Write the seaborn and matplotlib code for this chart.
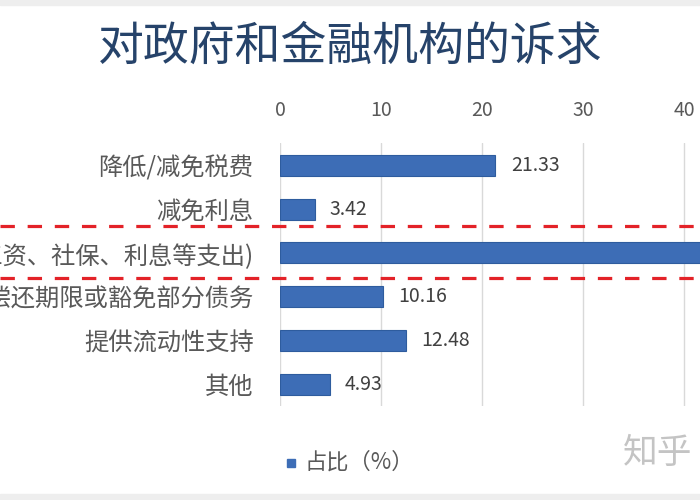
import matplotlib
matplotlib.use('Agg')
import matplotlib.pyplot as plt
import matplotlib.transforms as mtransforms
from matplotlib.lines import Line2D
from matplotlib.patches import Rectangle
import seaborn as sns

# Data
categories = ['降低/减免税费', '减免利息', '补贴企业刚性支出(工资、社保、利息等支出)',
              '延长偿还期限或豁免部分债务', '提供流动性支持', '其他']
shares = [21.33, 3.42, 47.68, 10.16, 12.48, 4.93]
x_ticks = [0, 10, 20, 30, 40, 50]
title = '对政府和金融机构的诉求'
legend_label = '占比（%）'

sns.set_theme(style='white')
plt.rcParams['font.family'] = ['Noto Sans CJK SC', 'DejaVu Sans']

bar_color = '#3D6DB6'
text_grey = '#595959'

fig = plt.figure(figsize=(7, 5), dpi=100)
fig.patch.set_facecolor('white')
# axes run off the right edge of the canvas, labels run off the left one
ax = fig.add_axes([280 / 700, 0.188, 505 / 700, 0.525])

sns.barplot(x=shares, y=categories, orient='h', color=bar_color,
            width=0.48, saturation=1, edgecolor='#2E5C9E', linewidth=0.8,
            ax=ax, label=legend_label, legend=False)

ax.set_xlim(0, 50)
ax.set_ylim(5.5, -0.5)
ax.set_xticks(x_ticks)
ax.xaxis.tick_top()
ax.tick_params(axis='x', length=0, pad=16, labelsize=14, labelcolor=text_grey)
ax.tick_params(axis='y', length=0, pad=19, labelsize=17.5, labelcolor=text_grey)
ax.set_xlabel('')
ax.set_ylabel('')
ax.grid(axis='x', color='#d9d9d9', linewidth=1)
ax.set_axisbelow(True)
for s in ax.spines.values():
    s.set_visible(False)

ax.bar_label(ax.containers[0], fmt='%.2f', padding=11, fontsize=14,
             color='#404040')

# red dashed box around the third category
trans = mtransforms.blended_transform_factory(fig.transFigure, ax.transData)
for yv in (1.38, 2.57):
    ax.add_line(Line2D([0, 1], [yv, yv], transform=trans, color='#E32228',
                       linewidth=2.3, linestyle=(0, (4.5, 4)), clip_on=False))

fig.text(0.5, 0.908, title, ha='center', va='center', fontsize=33,
         color='#26436A')

# legend at the bottom
fig.patches.append(Rectangle((287 / 700, 1 - 467 / 500), 8 / 700, 8 / 500,
                             transform=fig.transFigure, color=bar_color))
fig.text(305 / 700, 1 - 462 / 500, legend_label, ha='left', va='center',
         fontsize=16, color=text_grey)

# watermark and faint bands
fig.text(658 / 700, 1 - 454 / 500, '知乎', ha='center', va='center',
         fontsize=25, color='#c4c4c4')
fig.patches.append(Rectangle((0, 0), 1, 6 / 500, transform=fig.transFigure,
                             color='#eeeeee'))
fig.patches.append(Rectangle((0, 1 - 5 / 500), 1, 5 / 500,
                             transform=fig.transFigure, color='#eeeeee'))

fig.savefig('out.png', dpi=100)
